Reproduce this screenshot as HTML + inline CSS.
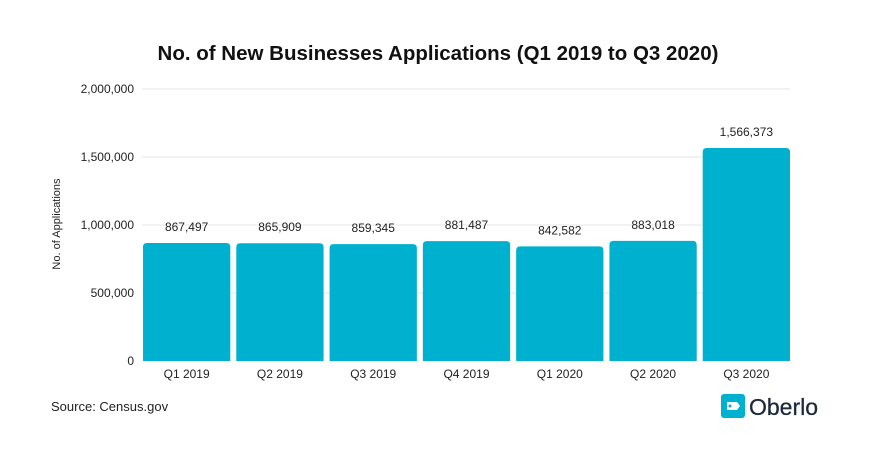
<!DOCTYPE html>
<html><head><meta charset="utf-8"><style>
body{margin:0;background:#fff;}
svg text{font-family:"Liberation Sans",sans-serif;}
</style></head><body>
<svg id="c" width="890" height="467" viewBox="0 0 890 467" xmlns="http://www.w3.org/2000/svg">
<text x="438" y="60" text-anchor="middle" font-size="20.5" font-weight="bold" fill="#111">No. of New Businesses Applications (Q1 2019 to Q3 2020)</text>
<text transform="translate(60,224) rotate(-90)" text-anchor="middle" font-size="11" fill="#222">No. of Applications</text>
<g id="grid"></g><g id="bars"></g>
<text x="51" y="411" font-size="13" fill="#222">Source: Census.gov</text>
<g>
<rect x="721" y="394" width="24" height="24" rx="3" fill="#00b0cf"/>
<path d="M727 402 h10 l3 4 l-3 4 h-10 z" fill="#fff"/>
<circle cx="730" cy="406" r="1.5" fill="#00b0cf"/>
<text x="749" y="415" font-size="23" fill="#1d2a3a" stroke="#1d2a3a" stroke-width="0.3">Oberlo</text>
</g>
</svg>
<script>
const categories=["Q1 2019","Q2 2019","Q3 2019","Q4 2019","Q1 2020","Q2 2020","Q3 2020"];
const values=[867497,865909,859345,881487,842582,883018,1566373];
const yTicks=[0,500000,1000000,1500000,2000000];
const NS="http://www.w3.org/2000/svg";
const x0=140,x1=793,yB=361,yT=89,yMax=2000000;
const y=v=>yB-(v/yMax)*(yB-yT);
const bw=(x1-x0)/categories.length;
const x=i=>x0+i*bw;
const fmt=v=>v.toLocaleString("en-US");
function el(t,a,p,txt){const e=document.createElementNS(NS,t);for(const k in a)e.setAttribute(k,a[k]);if(txt!==undefined)e.textContent=txt;p.appendChild(e);return e;}
const g=document.getElementById("grid"),b=document.getElementById("bars");
yTicks.forEach(t=>{
 if(t>0){const l=el("line",{x1:142,x2:790,y1:y(t),y2:y(t),stroke:"#e6e6e6","stroke-width":1},g);
 
 }
 const tx=el("text",{x:134,y:y(t)+4,"text-anchor":"end","font-size":12,fill:"#222"},g,fmt(t));
 
 
});
values.forEach((v,i)=>{
 const bx=x(i)+3,w=bw-6,top=y(v),r=4;
 const p=el("path",{d:`M${bx} ${yB} V${top+r} Q${bx} ${top} ${bx+r} ${top} H${bx+w-r} Q${bx+w} ${top} ${bx+w} ${top+r} V${yB} Z`,fill:"#00b0cf"},b);
 
 
 const vl=el("text",{x:bx+w/2,y:top-12,"text-anchor":"middle","font-size":12,fill:"#222"},b,fmt(v));
 
 
 const cl=el("text",{x:bx+w/2,y:378,"text-anchor":"middle","font-size":12,fill:"#222"},b,categories[i]);
 
 
});
</script>
</body></html>
